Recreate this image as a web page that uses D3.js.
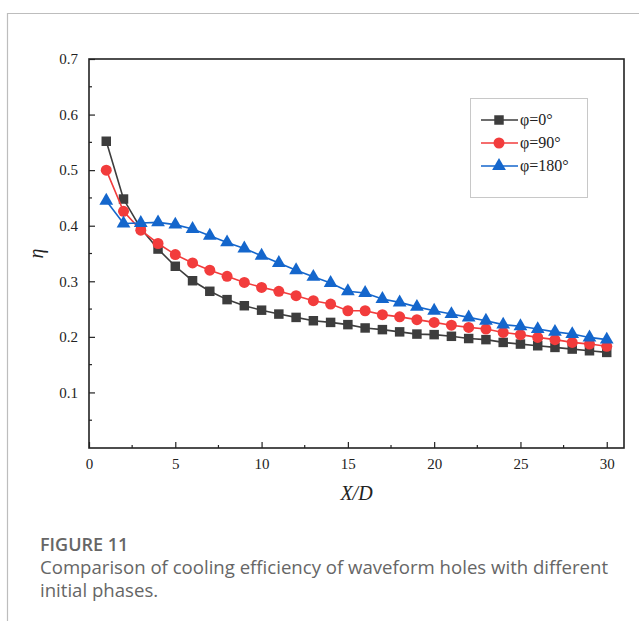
<!DOCTYPE html>
<meta charset="utf-8">
<style>
body { margin: 0; background: #fff; }
svg text { fill: #222; }
.tick text { font-family: "Liberation Serif", serif; font-size: 15px; }
.caption { font-family: "Open Sans", sans-serif; fill: #666 !important; }
</style>
<body>
<div id="chart"></div>
<script src="https://d3js.org/d3.v7.min.js"></script>
<script>

// data
var xd = d3.range(1, 31);
var phi0 = [0.552, 0.448, 0.395, 0.358, 0.327, 0.301, 0.282, 0.267, 0.256, 0.248,
            0.241, 0.235, 0.229, 0.226, 0.222, 0.216, 0.213, 0.209, 0.205, 0.204,
            0.201, 0.197, 0.195, 0.190, 0.187, 0.184, 0.181, 0.178, 0.175, 0.172];
var phi90 = [0.500, 0.426, 0.392, 0.368, 0.348, 0.333, 0.320, 0.309, 0.298, 0.289,
             0.282, 0.274, 0.265, 0.259, 0.247, 0.247, 0.240, 0.236, 0.231, 0.226,
             0.221, 0.217, 0.214, 0.208, 0.204, 0.199, 0.195, 0.190, 0.187, 0.183];
var phi180 = [0.445, 0.404, 0.405, 0.406, 0.402, 0.394, 0.382, 0.370, 0.359, 0.346,
              0.333, 0.320, 0.308, 0.297, 0.282, 0.279, 0.268, 0.262, 0.254, 0.247,
              0.241, 0.235, 0.229, 0.222, 0.219, 0.214, 0.209, 0.205, 0.199, 0.195];
var seriesNames = ["\u03c6=0\u00b0", "\u03c6=90\u00b0", "\u03c6=180\u00b0"];
var xTicks = [0, 5, 10, 15, 20, 25, 30];
var yTicks = [0.1, 0.2, 0.3, 0.4, 0.5, 0.6, 0.7];

var width = 639, height = 621;
var pLeft = 89, pRight = 624, pTop = 59, pBottom = 448;

var svg = d3.select("#chart").append("svg")
    .attr("width", width)
    .attr("height", height);

// card border (top + left)
svg.append("line").attr("x1", 7).attr("y1", 13.5).attr("x2", width).attr("y2", 13.5)
    .attr("stroke", "#bdbdbd").attr("stroke-width", 1.2);
svg.append("line").attr("x1", 7.5).attr("y1", 13).attr("x2", 7.5).attr("y2", height)
    .attr("stroke", "#bdbdbd").attr("stroke-width", 1.2);

var x = d3.scaleLinear().domain([0, 31]).range([pLeft, pRight]);
var y = d3.scaleLinear().domain([0, 0.7]).range([pBottom, pTop]);

// minor ticks
var g = svg.append("g");
g.selectAll(".xminor").data(d3.range(2.5, 31, 5)).enter().append("line")
    .attr("x1", function(d) { return x(d); }).attr("x2", function(d) { return x(d); })
    .attr("y1", pBottom).attr("y2", pBottom - 3)
    .attr("stroke", "#222").attr("stroke-width", 1.2);
g.selectAll(".yminor").data(d3.range(0.05, 0.7, 0.1)).enter().append("line")
    .attr("y1", function(d) { return y(d); }).attr("y2", function(d) { return y(d); })
    .attr("x1", pLeft).attr("x2", pLeft + 3)
    .attr("stroke", "#222").attr("stroke-width", 1.2);

// axes, ticks inward
var xAxis = svg.append("g").attr("transform", "translate(0," + pBottom + ")")
    .call(d3.axisBottom(x).tickValues(xTicks).tickSizeInner(-6).tickSizeOuter(0).tickPadding(14));
var yAxis = svg.append("g").attr("transform", "translate(" + pLeft + ",0)")
    .call(d3.axisLeft(y).tickValues(yTicks).tickSizeInner(-6).tickSizeOuter(0).tickPadding(11)
      .tickFormat(d3.format(".1f")));
svg.selectAll(".tick line").attr("stroke", "#222").attr("stroke-width", 1.2);
svg.selectAll(".domain").remove();
xAxis.selectAll("text").attr("dy", "0.45em");

// frame
svg.append("rect").attr("x", pLeft).attr("y", pTop)
    .attr("width", pRight - pLeft).attr("height", pBottom - pTop)
    .attr("fill", "none").attr("stroke", "#222").attr("stroke-width", 1.6);

// axis titles
svg.append("text").attr("x", (pLeft + pRight) / 2).attr("y", 500)
    .attr("text-anchor", "middle")
    .style("font-family", "Liberation Serif, serif").style("font-size", "20px")
    .style("font-style", "italic")
    .text("X/D");
svg.append("text").attr("transform", "translate(43," + y(0.35) + ") rotate(-90)")
    .attr("text-anchor", "middle")
    .style("font-family", "Liberation Serif, serif").style("font-size", "20px")
    .style("font-style", "italic")
    .text("\u03b7");

var series = [
  {name: seriesNames[0], values: phi0, color: "#3d3d3d", sym: d3.symbolSquare, size: 90},
  {name: seriesNames[1], values: phi90, color: "#f23c3c", sym: d3.symbolCircle, size: 95},
  {name: seriesNames[2], values: phi180, color: "#1466cc", sym: d3.symbolTriangle, size: 82}
];

var line = d3.line()
    .x(function(d, i) { return x(xd[i]); })
    .y(function(d) { return y(d); });

series.forEach(function(s) {
  svg.append("path").datum(s.values)
      .attr("d", line)
      .attr("fill", "none")
      .attr("stroke", s.color)
      .attr("stroke-width", 1.6);
  svg.selectAll(null).data(s.values).enter().append("path")
      .attr("d", d3.symbol().type(s.sym).size(s.size))
      .attr("transform", function(d, i) { return "translate(" + x(xd[i]) + "," + y(d) + ")"; })
      .attr("fill", s.color);
});

// legend
var lg = svg.append("g");
lg.append("rect").attr("x", 470.5).attr("y", 98.5).attr("width", 117).attr("height", 99)
    .attr("fill", "#fff").attr("stroke", "#c8c8c8").attr("stroke-width", 1);
series.forEach(function(s, i) {
  var ly = 120 + i * 23;
  lg.append("line").attr("x1", 481).attr("x2", 518).attr("y1", ly).attr("y2", ly)
      .attr("stroke", s.color).attr("stroke-width", 1.6);
  lg.append("path").attr("d", d3.symbol().type(s.sym).size(s.size))
      .attr("transform", "translate(499," + ly + ")")
      .attr("fill", s.color);
  lg.append("text").attr("x", 520).attr("y", ly + 5)
      .style("font-family", "Liberation Serif, serif").style("font-size", "16px")
      .text(s.name);
});

// caption
svg.append("text").attr("class", "caption").attr("x", 40).attr("y", 551)
    .style("font-size", "18px").style("font-weight", "600")
    .text("FIGURE 11");
svg.append("text").attr("class", "caption").attr("x", 40).attr("y", 574)
    .style("font-size", "18.6px")
    .text("Comparison of cooling efficiency of waveform holes with different");
svg.append("text").attr("class", "caption").attr("x", 40).attr("y", 597)
    .style("font-size", "18.6px")
    .text("initial phases.");

</script>
</body>
